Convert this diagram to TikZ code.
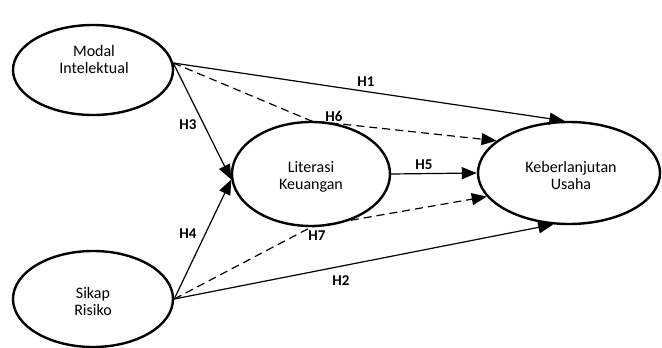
\documentclass[tikz,border=0pt]{standalone}
\usepackage{fontspec}
\setmainfont{Carlito}
\usetikzlibrary{shapes.geometric,arrows.meta}
\begin{document}
\begin{tikzpicture}[x=1pt,y=-1pt,
  construct/.style={draw,ellipse,line width=2.4pt,inner sep=0pt},
  ctext/.style={align=center,inner sep=0pt,font=\fontsize{16}{17}\selectfont},
  path/.style={line width=1.2pt,-{Triangle[length=15pt,width=12pt]}},
  med/.style={path,dash pattern=on 8pt off 5pt},
  hlab/.style={font=\fontsize{15}{18}\selectfont\bfseries,inner sep=0pt}]
\useasboundingbox (0,0) rectangle (662,348);
\node[construct,minimum width=160pt,minimum height=90pt] (m) at (93,70) {};
\node[construct,minimum width=160pt,minimum height=96pt] (s) at (93,299) {};
\node[construct,minimum width=158pt,minimum height=104pt] (l) at (311,174) {};
\node[construct,minimum width=182pt,minimum height=102pt] (k) at (569,173) {};
\node[ctext] (mt) at (94,60) {Modal\\Intelektual};
\node[ctext] (st) at (93,302) {Sikap\\Risiko};
\node[ctext] (lt) at (311,177) {Literasi\\Keuangan};
\node[ctext] (kt) at (571,176) {Keberlanjutan\\Usaha};
% direct paths
\draw[path] (m.5) -- (k.95);
\draw[path] (m.5) -- (l.184);
\draw[path] (s.east) -- (l.184);
\draw[path] (l.east) -- (k.west);
\draw[path] (s.east) -- (k.253);
% mediation paths
\draw[med] (m.5) -- (l.north) -- (k.156);
\draw[med] (s.east) -- (l.south) -- (k.196);
% labels
\node[hlab] (h1) at (366,82) {H1};
\node[hlab] (h6) at (334,116) {H6};
\node[hlab] (h3) at (188,125) {H3};
\node[hlab] (h4) at (188,234) {H4};
\node[hlab] (h5) at (424,165) {H5};
\node[hlab] (h7) at (317,236) {H7};
\node[hlab] (h2) at (341,281) {H2};
\end{tikzpicture}
\end{document}
